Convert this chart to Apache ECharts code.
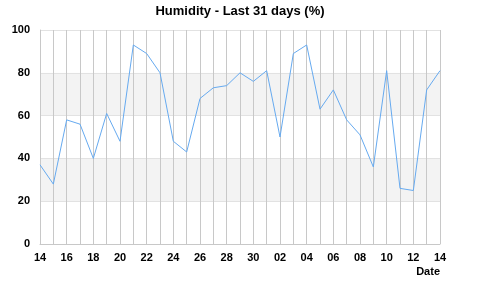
<!DOCTYPE html>
<html><head><meta charset="utf-8">
<script src="https://cdn.jsdelivr.net/npm/echarts@6/dist/echarts.min.js"></script>
<style>html,body{margin:0;padding:0;background:#fff}#c{width:480px;height:299px}</style>
</head><body><div id="c"></div>
<script>
var dates = ["14","15","16","17","18","19","20","21","22","23","24","25","26","27","28","29","30","01","02","03","04","05","06","07","08","09","10","11","12","13","14"];
var humidity = [37,28,58,56,40,61,48,93,89,80,48,43,68,73,74,80,76,81,50,89,93,63,72,58,51,36,81,26,25,72,81];
var yTicks = [0,20,40,60,80,100];

var chart = echarts.init(document.getElementById('c'), null, {renderer:'canvas'});
chart.setOption({
  animation:false,
  title:{text:'Humidity - Last 31 days (%)', left:'center', top:0,
    textStyle:{fontFamily:'Liberation Sans, Arial', fontSize:13, fontWeight:'bold', color:'#000'}},
  grid:{left:40, right:40, top:30, bottom:55, containLabel:false},
  xAxis:{type:'category', data:dates, boundaryGap:false,
    name:'Date', nameLocation:'end', nameGap:0,
    nameTextStyle:{fontFamily:'Liberation Sans, Arial', fontSize:11, fontWeight:'bold', color:'#000', align:'right', verticalAlign:'top', padding:[22,0,0,0]},
    axisLine:{lineStyle:{color:'#c8c8c8'}},
    axisTick:{show:false},
    axisLabel:{interval:1, margin:8, fontFamily:'Liberation Sans, Arial', fontSize:11, fontWeight:'bold', color:'#000'},
    splitLine:{show:true, interval:0, lineStyle:{color:'#c8c8c8', width:1}}
  },
  yAxis:{type:'value', min:0, max:100, interval:20,
    axisLine:{show:true, lineStyle:{color:'#c8c8c8'}},
    axisTick:{show:false},
    axisLabel:{margin:10, fontFamily:'Liberation Sans, Arial', fontSize:11, fontWeight:'bold', color:'#000',
      formatter:function(v){return yTicks.indexOf(v)>=0?String(v):'';}},
    splitLine:{show:true, lineStyle:{color:'#e2e2e2'}},
    splitArea:{show:true, areaStyle:{color:['#ffffff','#f3f3f3']}}
  },
  series:[{type:'line', data:humidity, symbol:'none', smooth:false,
    lineStyle:{color:'#66aaf0', width:1}}]
});
</script></body></html>
